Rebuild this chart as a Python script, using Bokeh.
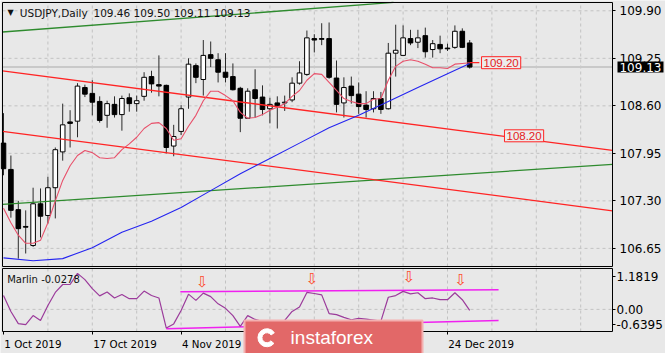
from bokeh.plotting import figure
from bokeh.models import (Range1d, FixedTicker, Label, ColumnDataSource, LinearAxis,
                          NumeralTickFormatter)
from bokeh.core.properties import value
from bokeh.embed import file_html
from bokeh.resources import INLINE

BG = "#e8e8e8"
GRID = "#c2c2c2"
FONT = "DejaVu Sans"

# ---- data (USDJPY daily bars, 1 Oct 2019 .. 30 Dec 2019) ----
opens = [108.09, 107.73, 107.18, 106.95, 106.69, 107.26, 107.10, 107.48, 107.97, 108.38,
         108.39, 108.85, 108.77, 108.66, 108.47, 108.62, 108.48, 108.71, 108.63, 108.73,
         109.00, 108.89, 108.88, 108.05, 108.25, 108.72, 109.15, 108.96, 109.30, 109.23,
         109.06, 109.00, 108.84, 108.43, 108.82, 108.72, 108.56, 108.64, 108.64, 108.68,
         108.91, 109.03, 109.52, 109.52, 109.52, 108.98, 108.64, 108.87, 108.76, 108.61,
         108.56, 108.70, 108.56, 109.32, 109.29, 109.52, 109.47, 109.56, 109.37, 109.44,
         109.39, 109.40, 109.62, 109.46]
highs = [108.50, 107.92, 107.30, 107.17, 107.48, 107.47, 107.63, 108.03, 108.63, 108.54,
         108.91, 108.89, 108.95, 108.73, 108.67, 108.73, 108.74, 108.77, 108.74, 109.06,
         109.08, 109.29, 108.89, 108.34, 108.61, 109.25, 109.18, 109.50, 109.48, 109.32,
         109.32, 109.18, 108.86, 108.84, 109.10, 108.88, 108.71, 108.73, 108.74, 108.99,
         109.21, 109.63, 109.58, 109.73, 109.74, 109.22, 108.99, 109.00, 108.92, 108.80,
         108.80, 108.79, 109.46, 109.71, 109.70, 109.64, 109.64, 109.67, 109.50, 109.56,
         109.45, 109.70, 109.66, 109.50]
lows = [107.65, 107.07, 106.51, 106.58, 106.67, 106.80, 106.99, 107.06, 107.85, 108.03,
        108.17, 108.72, 108.47, 108.37, 108.30, 108.44, 108.26, 108.52, 108.52, 108.67,
        108.78, 108.73, 107.95, 107.91, 108.20, 108.56, 108.91, 108.74, 109.13, 108.92,
        108.92, 108.81, 108.24, 108.42, 108.44, 108.47, 108.36, 108.29, 108.53, 108.65,
        108.89, 109.01, 109.33, 109.43, 108.97, 108.51, 108.44, 108.63, 108.49, 108.44,
        108.51, 108.49, 108.55, 109.00, 109.29, 109.43, 109.39, 109.26, 109.26, 109.32,
        109.35, 109.38, 109.39, 109.11]
closes = [107.74, 107.17, 106.92, 106.94, 107.26, 107.09, 107.48, 108.00, 108.34, 108.36,
          108.87, 108.76, 108.65, 108.40, 108.63, 108.48, 108.70, 108.63, 108.67, 108.99,
          108.90, 108.87, 108.03, 108.18, 108.56, 109.17, 108.99, 109.29, 109.25, 109.06,
          108.99, 108.82, 108.43, 108.80, 108.70, 108.55, 108.62, 108.60, 108.65, 108.91,
          109.05, 109.53, 109.50, 109.51, 108.99, 108.62, 108.85, 108.74, 108.59, 108.55,
          108.70, 108.55, 109.32, 109.36, 109.53, 109.46, 109.53, 109.34, 109.45, 109.38,
          109.38, 109.62, 109.40, 109.13]

ma_fast = [107.20, 107.00, 106.83, 106.72, 106.72, 106.76, 107.00, 107.30, 107.58, 107.78,
           107.92, 107.99, 107.96, 107.89, 107.88, 107.89, 108.00, 108.08, 108.17, 108.29,
           108.36, 108.37, 108.29, 108.13, 108.15, 108.32, 108.47, 108.67, 108.80, 108.80,
           108.74, 108.67, 108.51, 108.43, 108.44, 108.48, 108.54, 108.58, 108.63, 108.73,
           108.81, 108.95, 109.04, 109.03, 108.92, 108.81, 108.70, 108.66, 108.63, 108.63,
           108.69, 108.70, 108.95, 109.14, 109.21, 109.23, 109.21, 109.17, 109.12, 109.12,
           109.11, 109.17, 109.18, 109.19]
ma_slow_idx = [0, 4, 8, 12, 16, 20, 24, 28, 32, 36, 40, 44, 48, 52, 56, 60, 63]
ma_slow = [106.52, 106.48, 106.51, 106.66, 106.87, 107.02, 107.21, 107.44, 107.67, 107.88,
           108.09, 108.30, 108.47, 108.66, 108.85, 109.04, 109.18]

marlin = [0.40, -0.06, -0.41, -0.44, -0.18, -0.32, 0.11, 0.49, 0.72, 0.72,
          1.04, 0.86, 0.60, 0.39, 0.50, 0.33, 0.43, 0.31, 0.31, 0.53,
          0.40, 0.33, -0.54, -0.42, -0.03, 0.44, 0.26, 0.47, 0.37, 0.16,
          0.03, -0.18, -0.49, -0.18, -0.29, -0.35, -0.35, -0.35, -0.32, -0.06,
          0.07, 0.49, 0.46, 0.42, -0.12, -0.15, -0.23, -0.30, -0.26, -0.28,
          -0.31, -0.34, 0.35, 0.40, 0.52, 0.45, 0.48, 0.31, 0.33, 0.28,
          0.28, 0.48, 0.28, -0.0278]

# drawn chart objects (bar index, value)
green_hi_x, green_hi_y = [-0.135, 52.7], [109.61, 110.014]
green_lo_x, green_lo_y = [-0.135, 82.297], [107.253, 107.80]
red_hi_x, red_hi_y = [-0.135, 82.297], [109.077, 107.99]
red_lo_x, red_lo_y = [-0.135, 82.297], [108.251, 107.164]
osc_hi_x, osc_hi_y = [23.9, 66.9], [0.51, 0.57]
osc_lo_x, osc_lo_y = [22.0, 66.9], [-0.56, -0.32]
arrow_x = [26.85, 41.7, 54.8, 61.8]
arrow_y = [0.79, 0.88, 0.93, 0.86]

price_ticks = [109.90, 109.25, 108.60, 107.95, 107.30, 106.65]
date_ticks = [0, 12, 24, 36, 48, 60]
date_labels = ["1 Oct 2019", "17 Oct 2019", "4 Nov 2019", "24 Dec 2019"]
date_label_bars = [0, 12, 24, 60]
date_label_halfwidth_px = [29.0, 32.3, 30.1, 33.3]   # labels start at their tick
osc_tick_pos = [0.942, 0.0, -0.437]
osc_tick_text = ["1.1819", "0.00", "-0.6395"]
grid_x = list(range(6, 83, 6))
last_price = 109.13
level_label = 109.19

# ---- layout of the canvas (bar spacing 7.4 px, bar 0 at x=3 px) ----
BAR_PX = 7.4
XL, XR = -3 / BAR_PX, 662 / BAR_PX
X0P, X1P = -1 / BAR_PX, 609 / BAR_PX                # panel frame left/right
MAIN_TOP, MAIN_BOT = 110.0135, 106.402
OSC_TOP, OSC_BOT = 1.1819, -0.6395

p = figure(width=665, height=353, x_range=Range1d(XL, XR), y_range=Range1d(105.2120, 110.0409),
           x_axis_location=None, y_axis_location=None, min_border=0,
           output_backend="svg", toolbar_location=None,
           background_fill_color=BG, border_fill_color=BG, outline_line_color=None)
p.grid.visible = False
p.extra_y_ranges = {"osc": Range1d(-1.2755, 8.9298)}

# ---- grids ----
p.segment(x0=grid_x, y0=[MAIN_BOT] * len(grid_x), x1=grid_x, y1=[MAIN_TOP] * len(grid_x),
          line_color=GRID, line_dash="3 3", line_width=1)
p.segment(x0=[X0P] * len(price_ticks), y0=price_ticks, x1=[X1P] * len(price_ticks), y1=price_ticks,
          line_color=GRID, line_dash="3 3", line_width=1)
p.segment(x0=grid_x, y0=[OSC_BOT] * len(grid_x), x1=grid_x, y1=[OSC_TOP] * len(grid_x),
          line_color=GRID, line_dash="3 3", line_width=1, y_range_name="osc")
p.segment(x0=[X0P], y0=[0.0], x1=[X1P], y1=[0.0], line_color=GRID, line_dash="3 3",
          line_width=1, y_range_name="osc")

# bid line
p.segment(x0=[X0P], y0=[last_price], x1=[X1P], y1=[last_price], line_color="#c9c9c9", line_width=2)

# ---- candles ----
idx = list(range(len(opens)))
src = ColumnDataSource(dict(
    x=idx, high=highs, low=lows,
    top=[max(o, c) for o, c in zip(opens, closes)],
    bottom=[min(o, c) for o, c in zip(opens, closes)],
    fill=["white" if c >= o else "black" for o, c in zip(opens, closes)],
))
p.segment(x0="x", y0="high", x1="x", y1="low", source=src, line_color="#2a2a2a", line_width=1)
p.vbar(x="x", width=0.62, top="top", bottom="bottom", fill_color="fill",
       line_color="black", line_width=1, source=src)

# ---- trend lines & moving averages ----
p.line(green_hi_x, green_hi_y, line_color="#2e8b2e", line_width=1.3)
p.line(green_lo_x, green_lo_y, line_color="#2e8b2e", line_width=1.3)
p.line(red_hi_x, red_hi_y, line_color="#ff2424", line_width=1.3)
p.line(red_lo_x, red_lo_y, line_color="#ff2424", line_width=1.3)
p.line(idx, ma_fast, line_color="#e8506a", line_width=1.1)
p.line(ma_slow_idx, ma_slow, line_color="#2424f0", line_width=1.1)
p.line([idx[-1], 64.3], [level_label, level_label], line_color="#ff2424", line_width=1.3)

p.add_layout(Label(x=64.6, y=level_label, text="109.20", text_align="left", text_baseline="middle",
                   text_font="Liberation Sans", text_font_size="11.5px", text_color="#e41b1b",
                   background_fill_color="#ececec", border_line_color="#ff2424",
                   border_line_width=1, padding=2))
p.add_layout(Label(x=67.7, y=108.19, text="108.20", text_align="left", text_baseline="middle",
                   text_font="Liberation Sans", text_font_size="11.5px", text_color="#e41b1b",
                   background_fill_color="#ececec", border_line_color="#ff2424",
                   border_line_width=1, padding=2))

# ---- title ----
p.add_layout(Label(x=0.95, y=109.875, text="▼", text_align="center", text_baseline="middle",
                   text_font=FONT, text_font_size="8px", text_color="#111111"))
p.add_layout(Label(x=2.2, y=109.873, text="USDJPY,Daily", text_align="left",
                   text_baseline="middle", text_font=FONT, text_font_size="10.5px",
                   text_color="#111111"))
p.add_layout(Label(x=12.16, y=109.873, text="109.46 109.50 109.11 109.13", text_align="left",
                   text_baseline="middle", text_font=FONT, text_font_size="10.5px",
                   text_color="#111111"))

# ---- oscillator ----
p.line(osc_hi_x, osc_hi_y, line_color="#f020f0", line_width=1.5, y_range_name="osc")
p.line(osc_lo_x, osc_lo_y, line_color="#f020f0", line_width=1.5, y_range_name="osc")
p.line(idx, marlin, line_color="#9b3b9b", line_width=1.2, y_range_name="osc")
p.text(x=arrow_x, y=arrow_y, text=["⇩"] * len(arrow_x), text_color="#ff4a2a",
       text_font=value(FONT), text_font_size="15px", text_align="center",
       text_baseline="middle", y_range_name="osc")
p.add_layout(Label(x=0.5, y=0.864, y_range_name="osc", text="Marlin -0.0278", text_align="left",
                   text_baseline="middle", text_font=FONT, text_font_size="10px",
                   text_color="#111111"))

# ---- panel frames ----
p.quad(left=[X0P], right=[X1P], top=[MAIN_TOP], bottom=[MAIN_BOT], fill_color=None,
       line_color="black", line_width=1)
p.quad(left=[X0P], right=[X1P], top=[OSC_TOP], bottom=[OSC_BOT], fill_color=None,
       line_color="black", line_width=1, y_range_name="osc")

# ---- axes ----
price_axis = LinearAxis(fixed_location=X1P, bounds=(MAIN_BOT, MAIN_TOP),
                        ticker=FixedTicker(ticks=price_ticks),
                        formatter=NumeralTickFormatter(format="0.00"),
                        major_tick_out=3, major_tick_in=0, minor_tick_line_color=None,
                        axis_line_color=None, major_label_standoff=4,
                        major_label_text_font=FONT, major_label_text_font_size="12px",
                        major_label_text_color="black")
p.add_layout(price_axis, "right")

osc_axis = LinearAxis(y_range_name="osc", fixed_location=X1P, bounds=(OSC_BOT, OSC_TOP),
                      ticker=FixedTicker(ticks=osc_tick_pos),
                      major_label_overrides=dict(zip(osc_tick_pos, osc_tick_text)),
                      major_tick_out=3, major_tick_in=0, minor_tick_line_color=None,
                      axis_line_color=None, major_label_standoff=1,
                      major_label_text_font=FONT, major_label_text_font_size="12px",
                      major_label_text_color="black")
p.add_layout(osc_axis, "right")

label_centers = [round(b + (0.4 + hw) / BAR_PX, 3)
                 for b, hw in zip(date_label_bars, date_label_halfwidth_px)]
date_axis = LinearAxis(y_range_name="osc", fixed_location=OSC_BOT, bounds=(X0P, X1P),
                       ticker=FixedTicker(ticks=label_centers, minor_ticks=date_ticks),
                       major_label_overrides=dict(zip(label_centers, date_labels)),
                       major_tick_line_color=None, major_tick_out=0, major_tick_in=0,
                       minor_tick_out=3, minor_tick_in=0, minor_tick_line_color="black",
                       axis_line_color=None, major_label_standoff=3,
                       major_label_text_font=FONT, major_label_text_font_size="10.3px",
                       major_label_text_color="black")
p.add_layout(date_axis, "below")

# ---- current price marker on the price scale ----
p.rect(x=[86.08], y=[last_price], width=46, height=11, width_units="screen",
       height_units="screen", fill_color="black", line_color=None, level="overlay")
p.text(x=[83.24], y=[last_price], text=["109.13"], text_color="white", text_font=value(FONT),
       text_font_size="12px", text_align="left", text_baseline="middle", level="overlay")

# ---- watermark ----
p.quad(left=[32.57], right=[56.62], top=[-0.32], bottom=[-1.4], fill_color="#e26868",
       line_color="#f3b0b0", line_width=2, y_range_name="osc", level="overlay")
p.annular_wedge(x=[35.6], y=[-0.82], inner_radius=5, outer_radius=9, inner_radius_units="screen",
                outer_radius_units="screen", start_angle=0.6, end_angle=5.6, color="white",
                y_range_name="osc", level="overlay")
p.text(x=[38.8], y=[-0.813], text=["instaforex"], text_color="white",
       text_font=value("Liberation Sans"), text_font_size="19px", text_align="left",
       text_baseline="middle", y_range_name="osc", level="overlay")

open("out.html", "w").write(file_html(p, INLINE))
